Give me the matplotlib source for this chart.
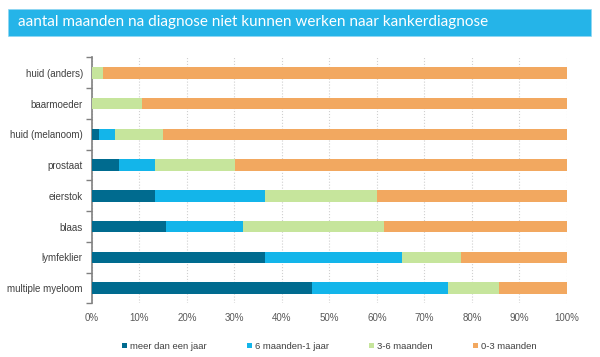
import numpy as np
import matplotlib
matplotlib.use('Agg')
import matplotlib.pyplot as plt
from matplotlib.patches import Rectangle

plt.rcParams['font.family'] = ['Liberation Sans', 'DejaVu Sans']

# data (percentages)
kankers = ['huid (anders)', 'baarmoeder', 'huid (melanoom)', 'prostaat',
           'eierstok', 'blaas', 'lymfeklier', 'multiple myeloom']
meer_jaar = [0, 0, 1.5, 5.8, 13.4, 15.7, 36.4, 46.3]
maanden_6_12 = [0, 0, 3.4, 7.5, 23.0, 16.2, 28.8, 28.6]
maanden_3_6 = [2.4, 10.5, 10.1, 16.9, 23.6, 29.5, 12.4, 10.8]
maanden_0_3 = [97.6, 89.5, 85.0, 69.8, 40.0, 38.6, 22.4, 14.3]

reeksen = ['meer dan een jaar', '6 maanden-1 jaar', '3-6 maanden', '0-3 maanden']
kleuren = ['#006b8f', '#13b5ea', '#c6e59c', '#f2a860']
titel = 'aantal maanden na diagnose niet kunnen werken naar kankerdiagnose'

fig = plt.figure(figsize=(6, 3.57), dpi=100)
ax = fig.add_axes([0.153, 0.150, 0.792, 0.689])

y = np.arange(len(kankers))
links = np.zeros(len(kankers))
for naam, waarden, kleur in zip(reeksen, [meer_jaar, maanden_6_12, maanden_3_6, maanden_0_3], kleuren):
    ax.barh(y, waarden, left=links, height=0.37, color=kleur, label=naam, zorder=3)
    links = links + np.array(waarden)

ax.set_ylim(len(kankers) - 0.5, -0.5)
ax.set_xlim(0, 100)
ax.set_yticks(y)
ax.set_yticklabels(kankers, fontsize=7, color='#404040')
ax.set_yticks(np.arange(-0.5, len(kankers)), minor=True)
ax.tick_params(axis='y', which='major', length=0, pad=6.5)
ax.tick_params(axis='y', which='minor', length=4, color='#808080', width=1)
ax.set_xticks(np.arange(0, 101, 10))
ax.set_xticklabels([f'{v}%' for v in range(0, 101, 10)], fontsize=7, color='#595959')
ax.tick_params(axis='x', length=0, pad=7)

for s in ['top', 'right', 'bottom']:
    ax.spines[s].set_visible(False)
ax.spines['left'].set_color('#808080')
ax.spines['left'].set_linewidth(1.2)
ax.xaxis.grid(True, linestyle=':', color='#d0d0d0', linewidth=0.8, zorder=0)
ax.set_axisbelow(True)

ax.legend(loc='center', bbox_to_anchor=(0.5, -0.175), ncol=4, frameon=False,
          fontsize=6.8, handlelength=0.5, handleheight=0.5, handletextpad=0.3,
          columnspacing=4.3, labelcolor='#404040')

# titelbalk
fig.patches.append(Rectangle((0.014, 0.899), 0.971, 0.077, transform=fig.transFigure,
                             facecolor='#25b4e8', edgecolor='#8fd6f2', linewidth=0.5))
fig.text(0.03, 0.937, titel, fontsize=11, color='white', va='center', family='Lato')

fig.savefig('out.png', dpi=100)
